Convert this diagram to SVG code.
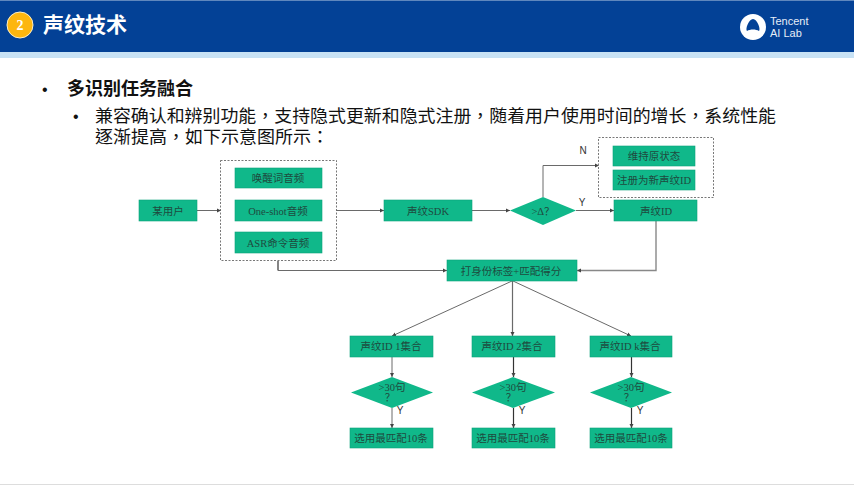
<svg xmlns="http://www.w3.org/2000/svg" width="854" height="485" viewBox="0 0 854 485">
<style>
.cn{font-family:"Liberation Sans","Noto Sans CJK TC",sans-serif}
.box{fill:#10b88a;stroke:#0aa27a;stroke-width:.6}
.lb{font-family:"Liberation Serif","Noto Sans CJK SC",serif;font-size:10.5px;fill:#1f4a3e;text-anchor:middle}
.yn{font-family:"Liberation Sans",sans-serif;font-size:10px;fill:#333;text-anchor:middle}
.c{fill:none;stroke:#6a6a6a;stroke-width:1}
.k{fill:none;stroke:#333;stroke-width:1.2}
.d{fill:#fff;stroke:#555;stroke-width:.8;stroke-dasharray:2 1.5}
.body{font-size:17.5px;fill:#111}
</style>
<defs><marker id="a" markerWidth="5" markerHeight="5" refX="4" refY="2.5" orient="auto" markerUnits="userSpaceOnUse"><path d="M0 .5L4 2.500L0 4.500z" fill="#444"/></marker></defs>
<rect width="854" height="485" fill="#fff"/>
<g id="header">
<rect width="854" height="52" fill="#034196"/>
<rect y="0" width="854" height="1" fill="#5f87bd"/>
<rect y="52" width="854" height="6" fill="#c8e2f5"/>
<circle cx="20" cy="25" r="13" fill="#fdb60f" stroke="#fbeec6" stroke-width="1"/>
<text x="20" y="30" font-family="Liberation Serif,serif" font-weight="700" font-size="14" fill="#fff" text-anchor="middle">2</text>
<text x="43" y="32" class="cn" font-size="21" font-weight="700" fill="#fff">声纹技术</text>
<circle cx="753" cy="27" r="13" fill="#fff"/>
<path d="M753 19C757 19 761 29 759 31C756 29 750 29 747 31C745 29 749 19 753 19z" fill="#034196"/>
<text x="770" y="25" font-family="Liberation Sans,sans-serif" font-size="11" fill="#e6eef8">Tencent</text>
<text x="770" y="37" font-family="Liberation Sans,sans-serif" font-size="11" fill="#e6eef8">AI Lab</text>
</g>
<g id="text">
<text x="42" y="95" font-family="Liberation Sans,sans-serif" font-size="16" fill="#111">•</text>
<text x="67" y="95" class="cn" font-size="18" font-weight="700" fill="#111">多识别任务融合</text>
<text x="73" y="122" font-family="Liberation Sans,sans-serif" font-size="16" fill="#111">•</text>
<text x="95" y="122" class="cn body" textLength="681" lengthAdjust="spacingAndGlyphs">兼容确认和辨别功能，支持隐式更新和隐式注册，随着用户使用时间的增长，系统性能</text>
<text x="95" y="143" class="cn body" textLength="234" lengthAdjust="spacingAndGlyphs">逐渐提高，如下示意图所示：</text>
<line x1="0" y1="484.5" x2="854" y2="484.5" stroke="#ddd"/>
</g>
<g id="connectors">
<path class="c" marker-end="url(#a)" d="M197 210.500H221"/>
<path class="c" marker-end="url(#a)" d="M336 210.500H384"/>
<path class="c" marker-end="url(#a)" d="M472 210.500H510"/>
<path class="c" marker-end="url(#a)" d="M576 210.500H614"/>
<path class="c" marker-end="url(#a)" d="M543 197V165.500H599"/>
<path class="k" d="M278 261V270.500"/>
<path class="c" marker-end="url(#a)" d="M278 270.500H447"/>
<path class="c" marker-end="url(#a)" d="M656 221V270.500H577" style="stroke:#888;stroke-width:1.4"/>
<path class="c" marker-end="url(#a)" d="M512 281L392 336"/>
<path class="c" marker-end="url(#a)" d="M512.500 281V336" style="stroke-width:1.2"/>
<path class="c" marker-end="url(#a)" d="M513 281L631 336"/>
<path class="c" marker-end="url(#a)" d="M392 357V377"/>
<path class="k" marker-end="url(#a)" d="M513.500 357V377"/>
<path class="k" marker-end="url(#a)" d="M631.500 357V377"/>
<path class="c" marker-end="url(#a)" d="M392 408V428"/>
<path class="k" marker-end="url(#a)" d="M513.500 408V428"/>
<path class="k" marker-end="url(#a)" d="M631.500 408V428"/>
</g>
<g id="user"><rect class="box" x="139" y="200" width="58" height="21"/><text class="lb" x="168" y="214.500">某用户</text></g>
<g id="audio-group">
<rect class="d" x="220.500" y="160.500" width="116" height="100"/>
<g id="wake"><rect class="box" x="235" y="168" width="87" height="20"/><text class="lb" x="278" y="182">唤醒词音频</text></g>
<g id="oneshot"><rect class="box" x="235" y="200" width="87" height="21"/><text class="lb" x="278" y="214.500">One-shot音频</text></g>
<g id="asr"><rect class="box" x="235" y="232" width="87" height="21"/><text class="lb" x="278" y="246.500">ASR命令音频</text></g>
</g>
<g id="sdk"><rect class="box" x="384" y="200" width="88" height="21"/><text class="lb" x="428" y="214.500">声纹SDK</text></g>
<g id="delta"><polygon points="510,210.500 543,197 576,210.500 543,225" fill="#10b88a"/><text class="lb" x="543" y="214.500">&gt;Δ？</text></g>
<text class="yn" x="583" y="154">N</text>
<text class="yn" x="582" y="206">Y</text>
<g id="result-group">
<rect class="d" x="598.500" y="137.500" width="115" height="60"/>
<g id="keep"><rect class="box" x="613" y="146" width="82" height="20"/><text class="lb" x="654" y="160">维持原状态</text></g>
<g id="register"><rect class="box" x="613" y="170" width="82" height="20"/><text class="lb" x="654" y="183.500">注册为新声纹ID</text></g>
</g>
<g id="voiceid"><rect class="box" x="614" y="200" width="83" height="21"/><text class="lb" x="656" y="214.500">声纹ID</text></g>
<g id="tag"><rect class="box" x="447" y="260" width="130" height="21"/><text class="lb" x="511" y="274.500">打身份标签+匹配得分</text></g>
<g id="set1"><rect class="box" x="350" y="336" width="83" height="21"/><text class="lb" x="391" y="350">声纹ID 1集合</text></g>
<g id="set2"><rect class="box" x="472" y="336" width="83" height="21"/><text class="lb" x="512" y="350">声纹ID 2集合</text></g>
<g id="setk"><rect class="box" x="590" y="336" width="82" height="21"/><text class="lb" x="630" y="350">声纹ID k集合</text></g>
<g id="d1"><polygon points="351,392.500 392,377 433,392.500 392,408" fill="#10b88a"/><text class="lb" x="392" y="391">&gt;30句</text><text class="lb" x="390" y="401">？</text></g>
<g id="d2"><polygon points="472,392.500 513,377 555,392.500 513,408" fill="#10b88a"/><text class="lb" x="513" y="391">&gt;30句</text><text class="lb" x="511" y="401">？</text></g>
<g id="dk"><polygon points="590,392.500 631,377 672,392.500 631,408" fill="#10b88a"/><text class="lb" x="631" y="391">&gt;30句</text><text class="lb" x="629" y="401">？</text></g>
<text class="yn" x="400" y="414">Y</text><text class="yn" x="522" y="414">Y</text><text class="yn" x="640" y="414">Y</text>
<g id="p1"><rect class="box" x="350" y="428" width="83" height="20"/><text class="lb" x="391" y="442">选用最匹配10条</text></g>
<g id="p2"><rect class="box" x="472" y="428" width="83" height="20"/><text class="lb" x="513" y="442">选用最匹配10条</text></g>
<g id="pk"><rect class="box" x="590" y="428" width="82" height="20"/><text class="lb" x="631" y="442">选用最匹配10条</text></g>
</svg>
